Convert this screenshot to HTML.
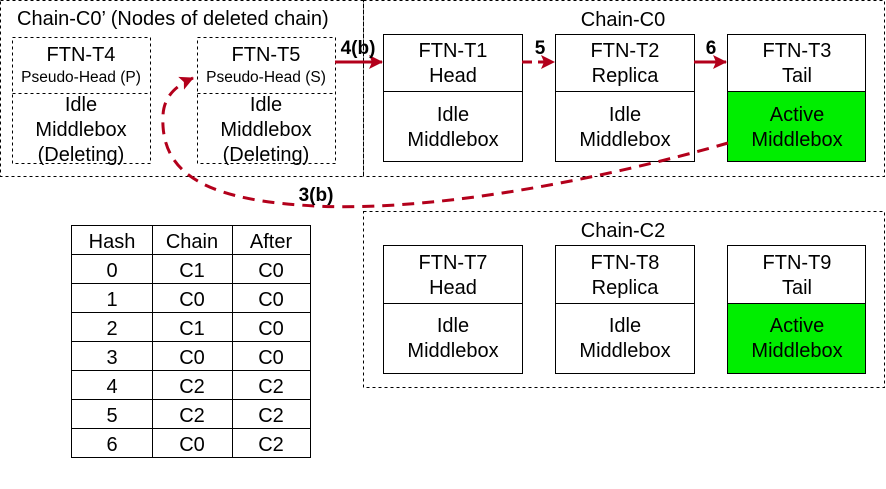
<!DOCTYPE html>
<html><head><meta charset="utf-8"><style>
html,body{margin:0;padding:0;background:#fff;}
svg{display:block;font-family:"Liberation Sans",Arial,sans-serif;}
</style></head><body>
<svg width="886" height="489" viewBox="0 0 886 489" xmlns="http://www.w3.org/2000/svg">
<defs>
<marker id="ah2" markerWidth="14" markerHeight="14" refX="13" refY="7" orient="auto" markerUnits="userSpaceOnUse" viewBox="0 0 14 14">
<path d="M0,0 L14,7 L0,14 L3,7 z" fill="#b3001b"/>
</marker>
</defs>
<g fill="none" stroke="#000" stroke-width="1" stroke-dasharray="3,3">
<rect x="0.5" y="0.5" width="363" height="176"/>
<rect x="363.5" y="0.5" width="521" height="176"/>
<rect x="363.5" y="211.5" width="521" height="176"/>
<rect x="12.5" y="37.5" width="138" height="126"/>
<line x1="12.5" y1="93.5" x2="150.5" y2="93.5"/>
<rect x="197.5" y="37.5" width="138" height="126"/>
<line x1="197.5" y1="93.5" x2="335.5" y2="93.5"/>
</g>
<rect x="727.5" y="91.5" width="138" height="70" fill="#00ee00"/>
<rect x="727.5" y="303.5" width="138" height="70" fill="#00ee00"/>
<g fill="none" stroke="#000" stroke-width="1">
<rect x="383.5" y="34.5" width="139" height="127"/><line x1="383.5" y1="91.5" x2="522.5" y2="91.5"/>
<rect x="555.5" y="34.5" width="139" height="127"/><line x1="555.5" y1="91.5" x2="694.5" y2="91.5"/>
<rect x="727.5" y="34.5" width="138" height="127"/><line x1="727.5" y1="91.5" x2="865.5" y2="91.5"/>
<rect x="383.5" y="245.5" width="139" height="128"/><line x1="383.5" y1="303.5" x2="522.5" y2="303.5"/>
<rect x="555.5" y="245.5" width="139" height="128"/><line x1="555.5" y1="303.5" x2="694.5" y2="303.5"/>
<rect x="727.5" y="245.5" width="138" height="128"/><line x1="727.5" y1="303.5" x2="865.5" y2="303.5"/>
<rect x="71.5" y="225.5" width="239" height="232"/>
<line x1="152.5" y1="225.5" x2="152.5" y2="457.5"/>
<line x1="232.5" y1="225.5" x2="232.5" y2="457.5"/>
<line x1="71.5" y1="254.5" x2="310.5" y2="254.5"/>
<line x1="71.5" y1="283.5" x2="310.5" y2="283.5"/>
<line x1="71.5" y1="312.5" x2="310.5" y2="312.5"/>
<line x1="71.5" y1="341.5" x2="310.5" y2="341.5"/>
<line x1="71.5" y1="370.5" x2="310.5" y2="370.5"/>
<line x1="71.5" y1="399.5" x2="310.5" y2="399.5"/>
<line x1="71.5" y1="428.5" x2="310.5" y2="428.5"/>
</g>
<g stroke="#b3001b" stroke-width="3" fill="none">
<line x1="335" y1="62" x2="382" y2="62" marker-end="url(#ah2)"/>
<line x1="522" y1="62" x2="554" y2="62" stroke-dasharray="10,6" marker-end="url(#ah2)"/>
<line x1="694" y1="62" x2="726" y2="62" marker-end="url(#ah2)"/>
<path d="M728,143 C600,180 420,215 300,205 C200,198 160,170 163,115 C164,97 175,86 193,78" stroke-dasharray="12,8" marker-end="url(#ah2)"/>
</g>
<g font-size="20" fill="#000" text-anchor="middle">
<text x="17" y="25" text-anchor="start">Chain-C0’ (Nodes of deleted chain)</text>
<text x="623" y="26">Chain-C0</text>
<text x="623" y="237">Chain-C2</text>
<text x="81" y="61">FTN-T4</text>
<text x="81" y="82" font-size="15.5">Pseudo-Head (P)</text>
<text x="81" y="111">Idle</text><text x="81" y="136">Middlebox</text><text x="81" y="161">(Deleting)</text>
<text x="266" y="61">FTN-T5</text>
<text x="266" y="82" font-size="15.5">Pseudo-Head (S)</text>
<text x="266" y="111">Idle</text><text x="266" y="136">Middlebox</text><text x="266" y="161">(Deleting)</text>
<text x="453" y="57">FTN-T1</text><text x="453" y="82">Head</text>
<text x="453" y="121">Idle</text><text x="453" y="146">Middlebox</text>
<text x="625" y="57">FTN-T2</text><text x="625" y="82">Replica</text>
<text x="625" y="121">Idle</text><text x="625" y="146">Middlebox</text>
<text x="797" y="57">FTN-T3</text><text x="797" y="82">Tail</text>
<text x="797" y="121">Active</text><text x="797" y="146">Middlebox</text>
<text x="453" y="269">FTN-T7</text><text x="453" y="294">Head</text>
<text x="453" y="332">Idle</text><text x="453" y="357">Middlebox</text>
<text x="625" y="269">FTN-T8</text><text x="625" y="294">Replica</text>
<text x="625" y="332">Idle</text><text x="625" y="357">Middlebox</text>
<text x="797" y="269">FTN-T9</text><text x="797" y="294">Tail</text>
<text x="797" y="332">Active</text><text x="797" y="357">Middlebox</text>
<g font-weight="bold" font-size="19">
<text x="358" y="54">4(b)</text>
<text x="540" y="54">5</text>
<text x="711" y="54">6</text>
<text x="316" y="201">3(b)</text>
</g>
<text x="112" y="248">Hash</text><text x="192" y="248">Chain</text><text x="271" y="248">After</text>
<text x="112" y="277">0</text><text x="192" y="277">C1</text><text x="271" y="277">C0</text>
<text x="112" y="306">1</text><text x="192" y="306">C0</text><text x="271" y="306">C0</text>
<text x="112" y="335">2</text><text x="192" y="335">C1</text><text x="271" y="335">C0</text>
<text x="112" y="364">3</text><text x="192" y="364">C0</text><text x="271" y="364">C0</text>
<text x="112" y="393">4</text><text x="192" y="393">C2</text><text x="271" y="393">C2</text>
<text x="112" y="422">5</text><text x="192" y="422">C2</text><text x="271" y="422">C2</text>
<text x="112" y="451">6</text><text x="192" y="451">C0</text><text x="271" y="451">C2</text>
</g>
</svg>
</body></html>
